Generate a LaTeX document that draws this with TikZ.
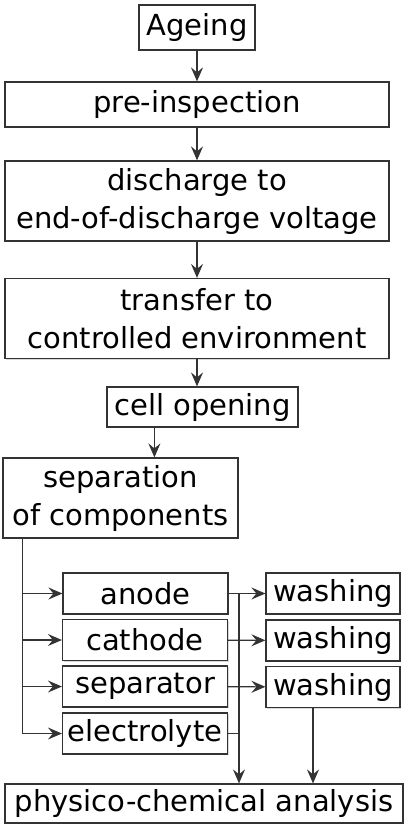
\documentclass[tikz,border=0pt]{standalone}
\usepackage{fontspec}
\setmainfont{DejaVu Sans}
\usetikzlibrary{arrows.meta,shadows}
\definecolor{edge}{HTML}{333333}

\begin{document}
\begin{tikzpicture}[
  x=1pt,y=-1pt,
  b/.style={draw=edge,line width=1.2pt,fill=white,align=center,
    font=\fontsize{29}{38}\selectfont,inner sep=0pt,
    drop shadow={shadow xshift=1.2pt,shadow yshift=-1.2pt,opacity=0.3}},
  l/.style={draw=edge,line width=1.1pt},
  a/.style={l,-{Stealth[length=14pt,width=12pt,inset=5pt]}}
]
\useasboundingbox (0,0) rectangle (406,824);
% main chain
\node[b,minimum width=116pt,minimum height=45pt] (ageing) at (197,27.5) {Ageing};
\node[b,minimum width=384pt,minimum height=45pt] (pre) at (197,104.5) {pre-inspection};
\node[b,minimum width=384pt,minimum height=80pt] (discharge) at (197,201)
  {discharge to\\end-of-discharge voltage};
\node[b,minimum width=384pt,minimum height=80pt] (transfer) at (197,318.5)
  {transfer to\\controlled environment};
\node[b,minimum width=191pt,minimum height=40pt] (cell) at (202.5,407) {cell opening};
\node[b,minimum width=235pt,minimum height=80pt] (sep) at (120.5,498)
  {separation\\of components};
% components
\node[b,minimum width=165pt,minimum height=41pt] (anode) at (145.5,593.5) {anode};
\node[b,minimum width=165pt,minimum height=41pt] (cathode) at (145,640) {cathode};
\node[b,minimum width=165pt,minimum height=41pt] (separator) at (145,686.5) {separator};
\node[b,minimum width=165pt,minimum height=41pt] (electrolyte) at (145,733.5) {electrolyte};
\node[b,minimum width=134pt,minimum height=41pt] (wash1) at (333,593.5) {washing};
\node[b,minimum width=134pt,minimum height=41pt] (wash2) at (333,640.5) {washing};
\node[b,minimum width=134pt,minimum height=41pt] (wash3) at (333,687) {washing};
\node[b,minimum width=398pt,minimum height=39pt] (physico) at (204,803.5)
  {physico-chemical analysis};

\draw[a] (ageing) -- (pre);
\draw[a] (pre) -- (discharge);
\draw[a] (discharge) -- (transfer);
\draw[a] (transfer.south) -- (transfer.south |- cell.north);
\coordinate (c1) at ([xshift=48pt]cell.south west);
\draw[a] (c1) -- (c1 |- sep.north);

% split into components
\coordinate (trunk) at ([xshift=20pt]sep.south west);
\foreach \n in {anode,cathode,separator}
  \draw[a] (trunk |- \n.west) -- (\n.west);
\draw[a] (trunk) |- (electrolyte.west);

% to analysis
\draw[a] (anode) -- (wash1);
\draw[a] (cathode) -- (wash2);
\draw[a] (separator) -- (wash3);
\coordinate (bus) at (239,593.5);
\draw[l] (electrolyte.east) -- (electrolyte.east -| bus);
\draw[a] (bus) -- (bus |- physico.north);
\coordinate (w3) at ([xshift=-20pt]wash3.south);
\draw[a] (w3) -- (w3 |- physico.north);
\end{tikzpicture}
\end{document}
